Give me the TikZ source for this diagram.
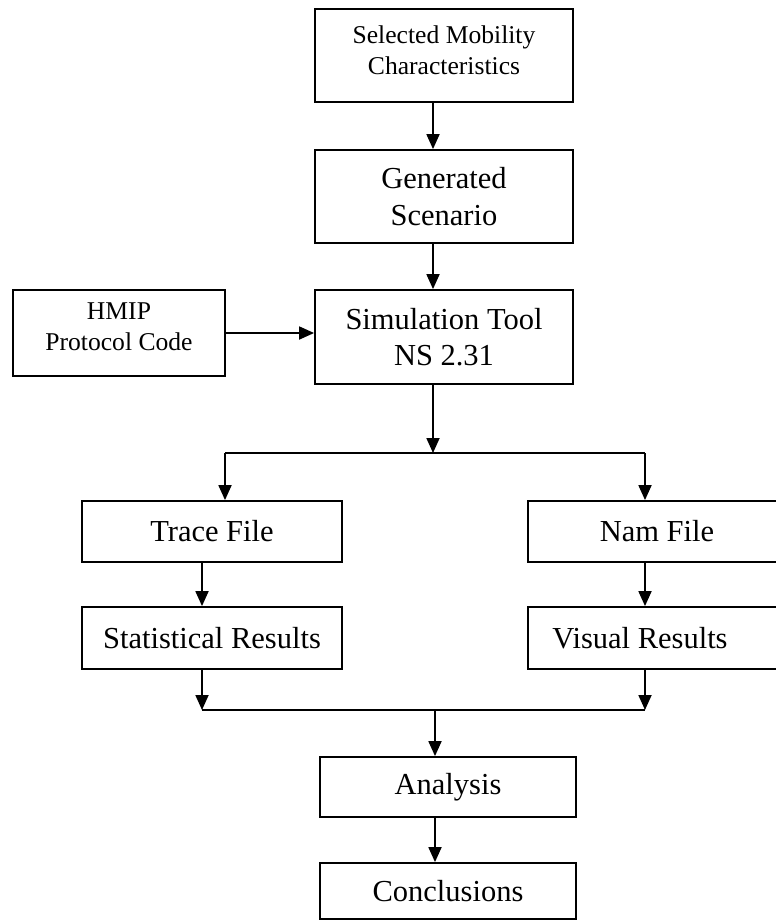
\documentclass[tikz,border=0pt]{standalone}
\usepackage{fontspec}
\setmainfont{Liberation Serif}
\usetikzlibrary{arrows.meta}
\begin{document}
\begin{tikzpicture}[x=1pt,y=-1pt,
  box/.style={draw, line width=1.8pt, rectangle, inner sep=2pt, align=center},
  bigtext/.style={font=\fontsize{30.5}{36.6}\selectfont},
  smalltext/.style={font=\fontsize{25.6}{31}\selectfont},
  link/.style={line width=1.8pt},
  flow/.style={link, -{Triangle[length=15pt,width=13pt]}}]
  % page frame
  \fill[white] (0,0) rectangle (776,921);
  \useasboundingbox (0,0) rectangle (776,921);
  \clip (0,0) rectangle (776,921);

  % boxes
  \node[box, smalltext, minimum width=258, minimum height=93, text depth=11pt] (sel) at (444,55.5)
    {Selected Mobility\\Characteristics};
  \node[box, bigtext, minimum width=258, minimum height=93] (gen) at (444,196.5)
    {Generated\\Scenario};
  \node[box, bigtext, minimum width=258, minimum height=94] (sim) at (444,337)
    {Simulation Tool\\NS 2.31};
  \node[box, smalltext, minimum width=212, minimum height=86, text depth=12pt] (hmip) at (119,333)
    {HMIP\\Protocol Code};
  \node[box, bigtext, minimum width=260, minimum height=61] (trace) at (212,531.5)
    {Trace File};
  \node[box, bigtext, minimum width=258, minimum height=61] (nam) at (657,531.5)
    {Nam File};
  \node[box, bigtext, minimum width=260, minimum height=62] (stat) at (212,638)
    {Statistical Results};
  \node[box, bigtext, minimum width=258, minimum height=62] (vis) at (657,638)
    {Visual Results\hspace*{34pt}};
  \node[box, bigtext, minimum width=256, minimum height=60] (ana) at (448,787)
    {Analysis};
  \node[box, bigtext, minimum width=256, minimum height=56] (conc) at (448,891)
    {Conclusions};

  % junction points of the connectors
  \coordinate (ax) at (433,0);
  \coordinate (br) at (433,453);
  \coordinate (bl) at (225,453);
  \coordinate (brr) at (645,453);
  \coordinate (tx) at (202,0);
  \coordinate (ml) at (202,710);
  \coordinate (mr) at (645,710);
  \coordinate (mc) at (435,710);

  % connectors
  \draw[flow] (sel.south -| ax) -- (gen.north -| ax);
  \draw[flow] (gen.south -| ax) -- (sim.north -| ax);
  \draw[flow] (hmip.east) -- (hmip.east -| sim.west);
  \draw[flow] (sim.south -| ax) -- (br);
  \draw[link] (bl) -- (brr);
  \draw[flow] (bl) -- (bl |- trace.north);
  \draw[flow] (brr) -- (brr |- nam.north);
  \draw[flow] (trace.south -| tx) -- (stat.north -| tx);
  \draw[flow] (nam.south -| brr) -- (vis.north -| brr);
  \draw[flow] (stat.south -| tx) -- (ml);
  \draw[flow] (vis.south -| mr) -- (mr);
  \draw[link] (ml) -- (mr);
  \draw[flow] (mc) -- (mc |- ana.north);
  \draw[flow] (ana.south -| mc) -- (conc.north -| mc);
\end{tikzpicture}
\end{document}
